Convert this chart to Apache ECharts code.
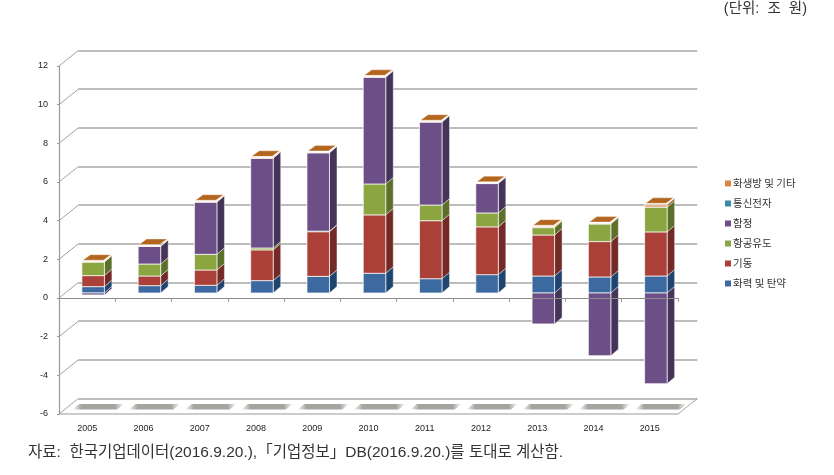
<!DOCTYPE html>
<html><head><meta charset="utf-8">
<style>html,body{margin:0;padding:0;background:#fff}#c{width:834px;height:475px}</style>
<script src="https://cdn.jsdelivr.net/npm/echarts@6/dist/echarts.min.js"></script>
</head><body><div id="c"></div>
<script>
const years = ['2005','2006','2007','2008','2009','2010','2011','2012','2013','2014','2015'];
const firepower = [0.33,0.38,0.40,0.64,0.86,1.02,0.74,0.95,0.88,0.83,0.88];
const mobility  = [0.57,0.50,0.79,1.59,2.31,3.02,3.00,2.47,2.12,1.83,2.28];
const guided    = [0.70,0.62,0.81,0.10,0.03,1.60,0.81,0.72,0.38,0.91,1.28];
const naval     = [-0.10,0.91,2.70,4.64,4.05,5.52,4.29,1.52,-1.60,-3.24,-4.69];
const telecom   = [0,0,0,0,0,0,0,0,0,0,0];
const cbrn      = [0.02,0.02,0.02,0.02,0.02,0.02,0.02,0.02,0.05,0.02,0.12];
const yTicks = [-6,-4,-2,0,2,4,6,8,10,12];

const names = ['화력 및 탄약','기동','항공유도','함정','통신전자','화생방 및 기타'];
const legendOrder = ['화생방 및 기타','통신전자','함정','항공유도','기동','화력 및 탄약'];
const valueLists = [firepower,mobility,guided,naval,telecom,cbrn];
const front = ['#3C6AA0','#AB4039','#8BA640','#6C4F87','#358CA8','#E0A070'];
const legendColors = ['#3C6AA0','#AB4039','#8BA640','#6C4F87','#358CA8','#DB843D'];
const side  = ['#1F4470','#732A26','#5C7029','#463359','#215A6C','#A0601E'];
const CAP = '#B4661F';

const SHIFT_X = 6, SHIFT_Y = -5, DX = 7.5, DY = 6.5;
const WALL_X = 19.3, WALL_Y = -15.5;

function buildStacks(){
  const up = years.map(()=>0), down = years.map(()=>0);
  return valueLists.map(list => list.map((v,i)=>{
    let a,b;
    if(v>=0){a=up[i];b=a+v;up[i]=b;} else {a=down[i];b=a+v;down[i]=b;}
    return [i,a,b];
  }));
}
const stacks = buildStacks();

function segmentRender(si){
  return function(params,api){
    const i = api.value(0), a = api.value(1), b = api.value(2);
    if(a===b) return {type:'group',children:[]};
    const bw = api.size([1,0])[0]*0.4;
    const pa = api.coord([i,a]), pb = api.coord([i,b]);
    const x0 = pa[0]-bw/2+SHIFT_X, x1 = x0+bw;
    const yt = Math.min(pa[1],pb[1])+SHIFT_Y, yb = Math.max(pa[1],pb[1])+SHIFT_Y;
    const kids = [
      {type:'polygon',shape:{points:[[x1,yt],[x1+DX,yt-DY],[x1+DX,yb-DY],[x1,yb]]},
       style:{fill:side[si],stroke:'rgba(255,255,255,0.55)',lineWidth:0.8}},
      {type:'rect',shape:{x:x0,y:yt,width:bw,height:yb-yt},
       style:{fill:front[si],stroke:'rgba(255,255,255,0.7)',lineWidth:1}}
    ];
    if(si===5){
      kids.push({type:'polygon',shape:{points:[[x0+1,yt-1.5],[x1-1,yt-1.5],[x1+DX-1,yt-DY-0.5],[x0+DX+1,yt-DY-0.5]]},
        style:{fill:CAP,stroke:'rgba(255,255,255,0.6)',lineWidth:0.6}});
    }
    return {type:'group',children:kids};
  };
}

const segSeries = names.map((n,si)=>({
  name:n,type:'custom',xAxisIndex:0,yAxisIndex:0,z:4,
  color:legendColors[si],itemStyle:{color:legendColors[si]},
  encode:{x:0,y:[1,2]},clip:false,silent:true,
  data:stacks[si],renderItem:segmentRender(si)
}));

const wallSeries = {
  type:'custom',xAxisIndex:0,yAxisIndex:0,z:1,silent:true,clip:false,
  encode:{y:0},data:yTicks.map(v=>[v]),
  renderItem(params,api){
    const v = api.value(0), cs = params.coordSys;
    const y = api.coord([0,v])[1];
    const kids = [{type:'line',shape:{x1:cs.x,y1:y,x2:cs.x+WALL_X,y2:y+WALL_Y},style:{stroke:'#a3a3a3',lineWidth:1}}];
    if(v===-6){
      kids.push({type:'line',shape:{x1:cs.x,y1:y,x2:cs.x+cs.width,y2:y},style:{stroke:'#999',lineWidth:1.2}});
      kids.push({type:'line',shape:{x1:cs.x+cs.width,y1:y,x2:cs.x+cs.width+WALL_X,y2:y+WALL_Y},style:{stroke:'#a3a3a3',lineWidth:1}});
    }
    return {type:'group',children:kids};
  }
};

const shadowSeries = {
  type:'custom',xAxisIndex:0,yAxisIndex:0,z:2,silent:true,clip:false,
  encode:{x:0},data:years.map((y,i)=>[i,-6]),
  renderItem(params,api){
    const p = api.coord([api.value(0),api.value(1)]);
    const cx = p[0]+11, y = p[1];
    return {type:'polygon',shape:{points:[[cx-26,y-4.5],[cx+19,y-4.5],[cx+26,y-10],[cx-19,y-10]]},
      style:{fill:{type:'linear',x:0,y:0,x2:1,y2:0,colorStops:[
        {offset:0,color:'rgba(165,164,158,0)'},{offset:0.18,color:'rgba(165,164,158,1)'},
        {offset:0.82,color:'rgba(165,164,158,1)'},{offset:1,color:'rgba(165,164,158,0)'}]}}};
  }
};

const chart = echarts.init(document.getElementById('c'),null,{renderer:'canvas'});
chart.setOption({
  animation:false,backgroundColor:'#fff',
  title:[
    {text:'(단위:  조  원)',right:27,top:2,padding:0,textStyle:{fontFamily:'Liberation Sans, Noto Sans CJK KR',fontSize:14.5,fontWeight:'normal',color:'#333'}},
    {text:'자료:  한국기업데이터(2016.9.20.),「기업정보」DB(2016.9.20.)를 토대로 계산함.',left:28,top:445,padding:0,textStyle:{fontFamily:'Liberation Sans, Noto Sans CJK KR',fontSize:15.5,fontWeight:'normal',color:'#333'}}
  ],
  legend:{
    orient:'vertical',left:725,top:177,padding:0,itemWidth:6,itemHeight:6,itemGap:7,
    icon:'rect',data:legendOrder,selectedMode:false,
    textStyle:{fontFamily:'Noto Sans CJK KR',fontSize:10.5,color:'#333',padding:[0,0,0,-3],lineHeight:13}
  },
  grid:[
    {left:59,top:66,width:619,height:348},
    {left:78.3,top:50.5,width:619,height:348}
  ],
  xAxis:[
    {type:'category',gridIndex:0,data:years,z:6,
     axisLine:{onZero:true,lineStyle:{color:'#8c8c8c',width:1.2}},
     axisTick:{show:true,length:4,alignWithLabel:false,lineStyle:{color:'#999'}},
     axisLabel:{interval:0,margin:10,fontFamily:'Liberation Sans',fontSize:9,color:'#222'},
     splitLine:{show:false}},
    {type:'category',gridIndex:1,data:years,axisLine:{show:false},axisTick:{show:false},axisLabel:{show:false},splitLine:{show:false}}
  ],
  yAxis:[
    {type:'value',gridIndex:0,min:-6,max:12,interval:2,
     axisLine:{show:true,onZero:false,lineStyle:{color:'#999',width:1.2}},
     axisTick:{show:true,length:2,lineStyle:{color:'#999'}},
     axisLabel:{margin:11,fontFamily:'Liberation Sans',fontSize:9,color:'#222',padding:[3,0,0,0]},
     splitLine:{show:false}},
    {type:'value',gridIndex:1,min:-6,max:12,interval:2,
     axisLine:{show:false},axisTick:{show:false},axisLabel:{show:false},
     splitLine:{show:true,lineStyle:{color:'#a6a6a6',width:1.5}}}
  ],
  series:[wallSeries,shadowSeries].concat(segSeries)
});
</script></body></html>
